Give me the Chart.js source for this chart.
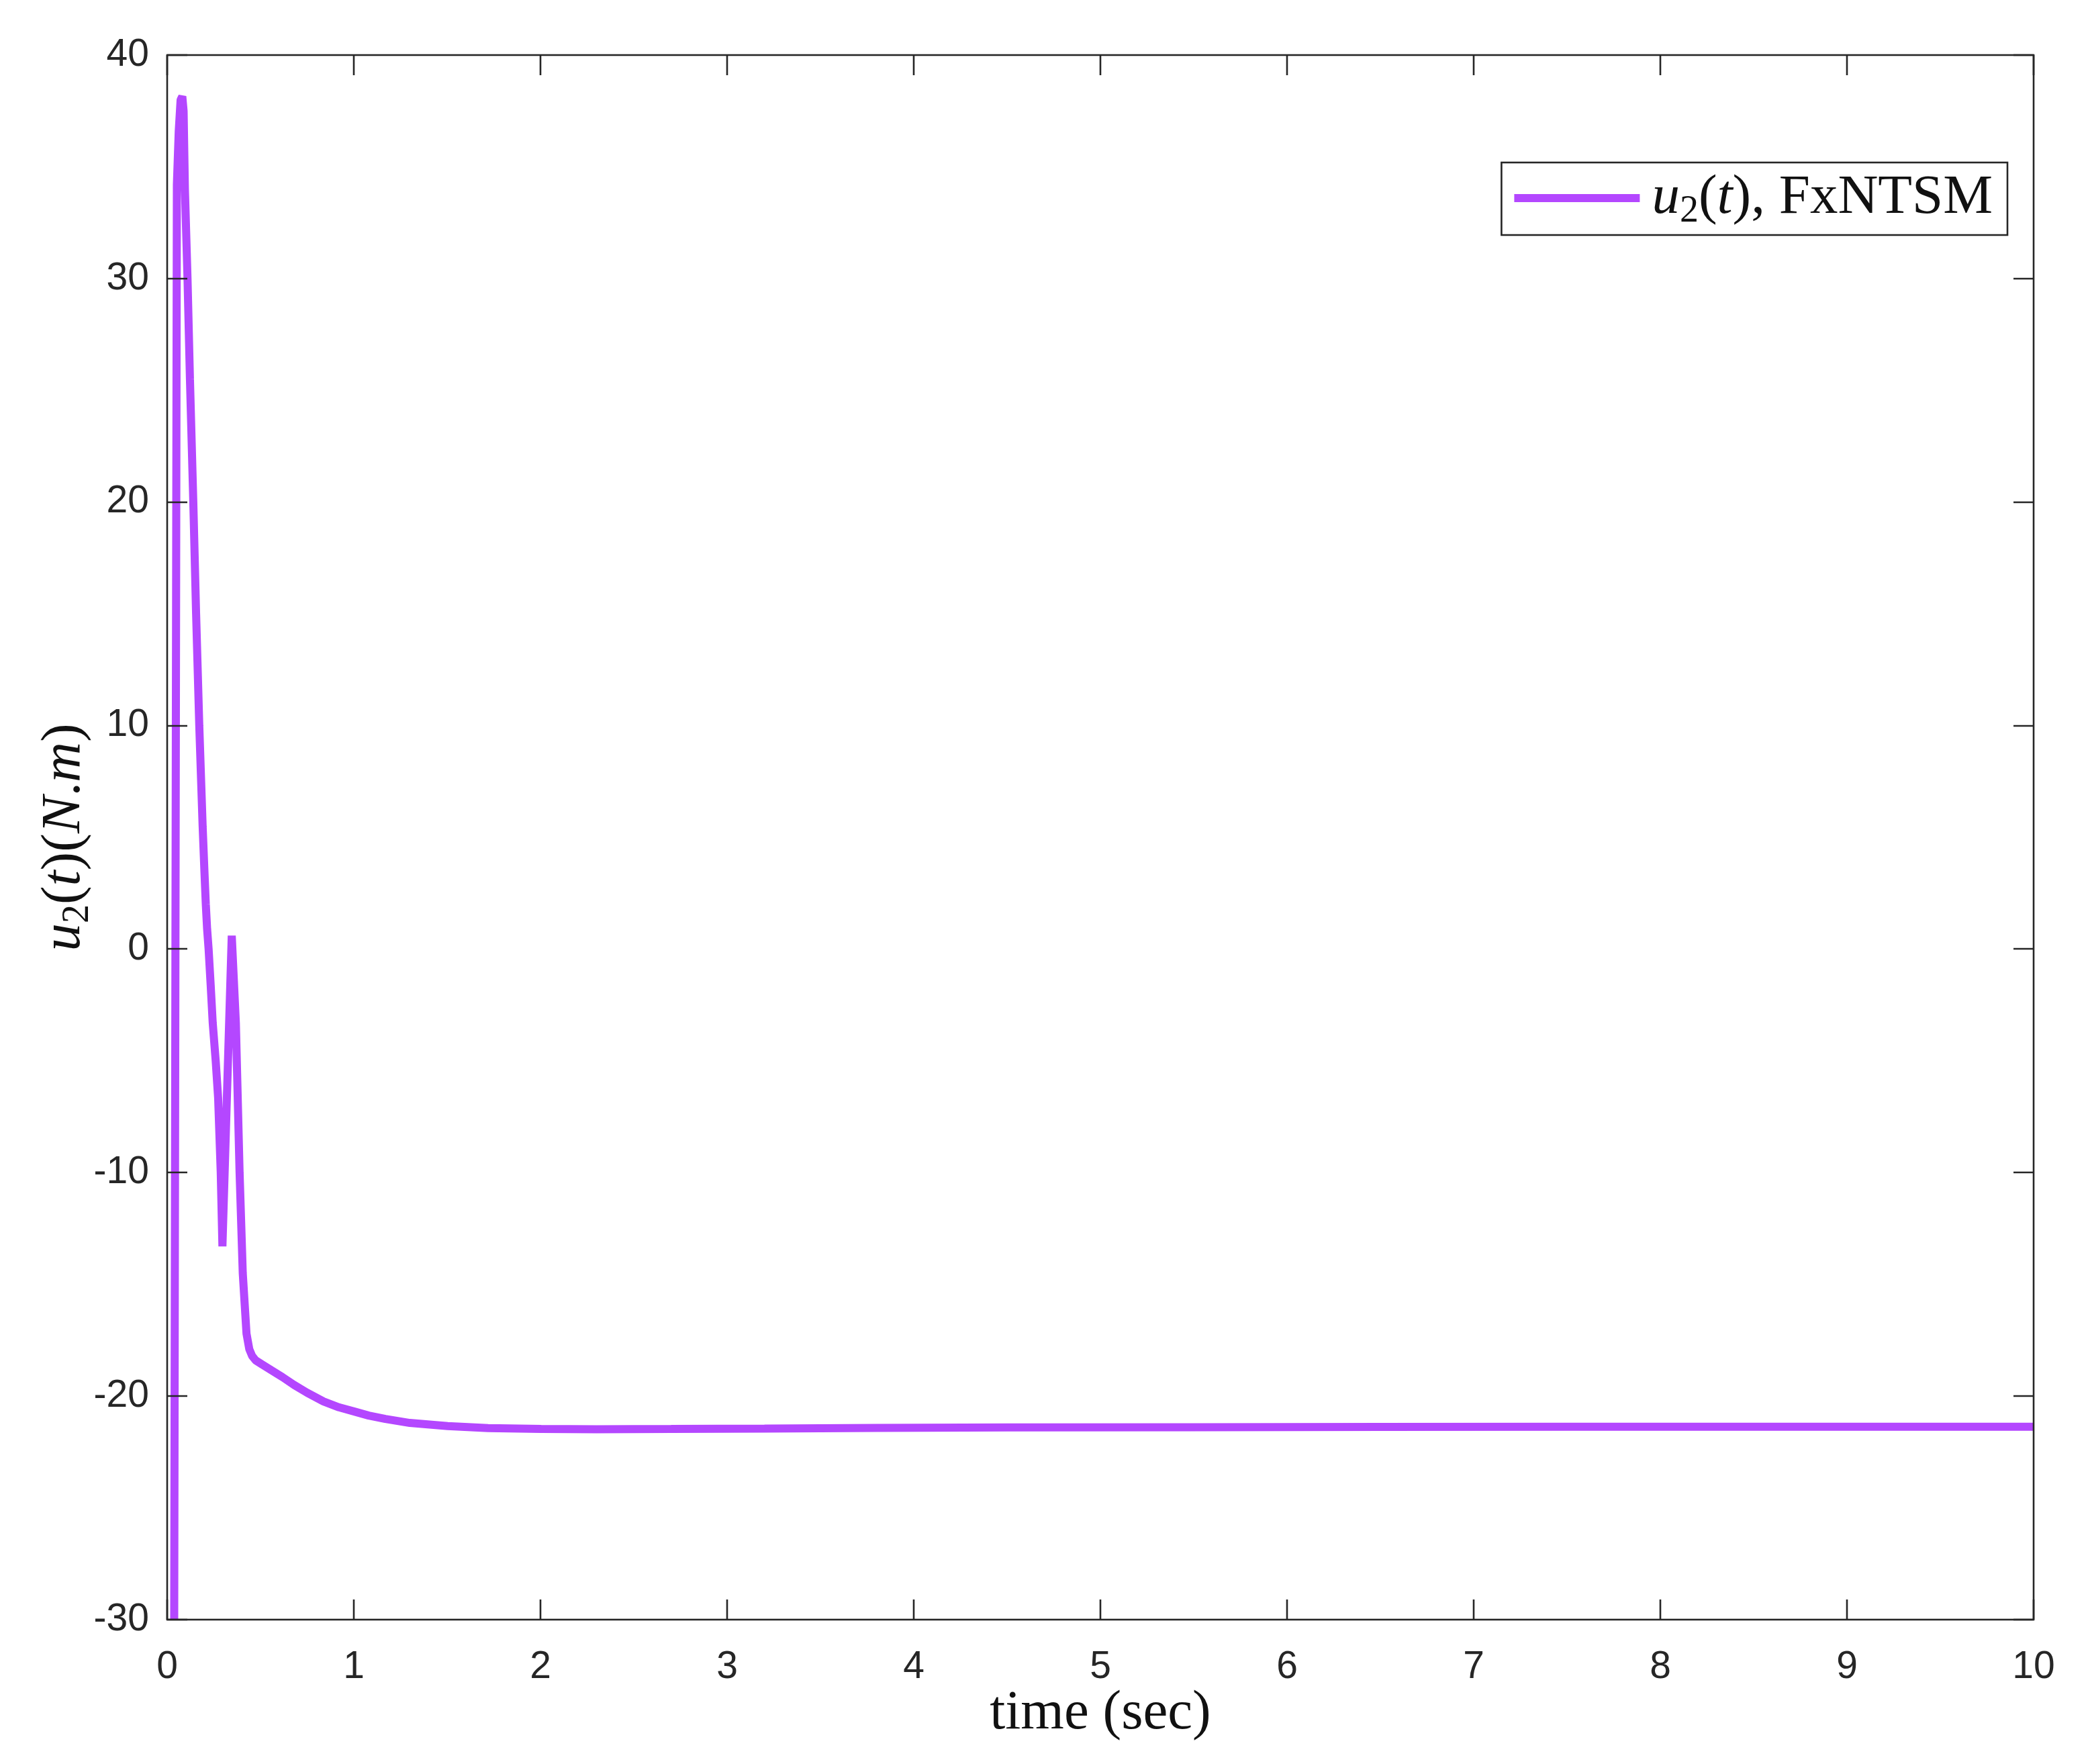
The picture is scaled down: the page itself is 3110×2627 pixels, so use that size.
<!DOCTYPE html>
<html lang="en">
<head>
    <meta charset="UTF-8">
    <title>u2(t) FxNTSM</title>
    <script src="https://cdn.jsdelivr.net/npm/chart.js"></script>
    <style>
        html, body { margin: 0; padding: 0; background: #fff; }
        #wrap { width: 3110px; height: 2627px; }
    </style>
</head>
<body>
<div id="wrap"><canvas id="torqueChart"></canvas></div>
<script>
    // time (sec) and control torque u2 (N.m)
    const timeS = [0, 0.037, 0.045, 0.052, 0.062, 0.072, 0.081, 0.088, 0.095, 0.109,
        0.122, 0.14, 0.155, 0.172, 0.19, 0.2, 0.207, 0.214, 0.222, 0.233,
        0.244, 0.26, 0.273, 0.287, 0.296, 0.346, 0.355, 0.368, 0.388, 0.405,
        0.425, 0.44, 0.455, 0.474, 0.508, 0.56, 0.618, 0.68, 0.75, 0.838,
        0.92, 1.003, 1.08, 1.169, 1.3, 1.503, 1.72, 2.004, 2.3, 2.7,
        3.2, 3.8, 4.5, 5.5, 6.5, 7.5, 8.5, 10];
    const u2Torque = [-150, -33, 3.4, 34.2, 36.6, 38.0, 38.15, 37.5, 34, 30,
        25.5, 20, 15, 10, 5.5, 3.4, 2.0, 0.9, 0, -1.6,
        -3.3, -5, -6.65, -10, -13.3, 0.6, -1.0, -3.3, -10, -14.5,
        -17.2, -17.9, -18.2, -18.4, -18.58, -18.85, -19.15, -19.5, -19.85, -20.24,
        -20.5, -20.69, -20.87, -21.02, -21.2, -21.34, -21.43, -21.47, -21.48, -21.47,
        -21.45, -21.42, -21.4, -21.39, -21.38, -21.37, -21.37, -21.37];
    const xTicks = [0, 1, 2, 3, 4, 5, 6, 7, 8, 9, 10];
    const yTicks = [-30, -20, -10, 0, 10, 20, 30, 40];
    const seriesLabel = 'u2(t), FxNTSM';

    const lineColor = '#b447ff';
    const axisColor = '#262626';
    const serif = "'Liberation Serif', 'Times New Roman', serif";
    const S = 83;
    const up = `${S}px ${serif}`;
    const it = `italic ${S}px ${serif}`;
    const sub = `${Math.round(S * 0.68)}px ${serif}`;

    // label pieces: [text, font, baseline shift]
    const xLabelParts = [['time (sec)', up, 0]];
    const yLabelParts = [['u', it, 0], ['2', sub, 13], ['(', up, 0], ['t', it, 0], [')(', up, 0],
        ['N', it, 0], ['.', up, 0], ['m', it, 0], [')', up, 0]];
    const legendParts = [['u', it, 0], ['2', sub, 13], ['(', up, 0], ['t', it, 0], ['), FxNTSM', up, 0]];

    function richWidth(ctx, parts) {
        let w = 0;
        parts.forEach(p => { ctx.font = p[1]; w += ctx.measureText(p[0]).width; });
        return w;
    }
    function drawRich(ctx, parts, x, y) {
        let cx = x;
        parts.forEach(p => {
            ctx.font = p[1];
            ctx.fillText(p[0], cx, y + p[2]);
            cx += ctx.measureText(p[0]).width;
        });
    }

    const matlabFrame = {
        id: 'matlabFrame',
        afterDatasetsDraw(chart) {
            const { ctx, chartArea: a, scales: { x, y } } = chart;
            ctx.save();
            ctx.strokeStyle = axisColor;
            ctx.lineWidth = 2.6;
            ctx.beginPath();
            x.ticks.forEach(t => {
                const px = Math.round(x.getPixelForValue(t.value));
                ctx.moveTo(px, a.bottom); ctx.lineTo(px, a.bottom - 30);
                ctx.moveTo(px, a.top); ctx.lineTo(px, a.top + 30);
            });
            y.ticks.forEach(t => {
                const py = Math.round(y.getPixelForValue(t.value));
                ctx.moveTo(a.left, py); ctx.lineTo(a.left + 30, py);
                ctx.moveTo(a.right, py); ctx.lineTo(a.right - 30, py);
            });
            ctx.stroke();
            ctx.strokeRect(a.left, a.top, a.right - a.left, a.bottom - a.top);

            ctx.fillStyle = '#111';
            ctx.textBaseline = 'alphabetic';
            ctx.textAlign = 'left';
            // x label
            const xw = richWidth(ctx, xLabelParts);
            drawRich(ctx, xLabelParts, (a.left + a.right) / 2 - xw / 2, a.bottom + 162);
            // y label
            const yw = richWidth(ctx, yLabelParts);
            ctx.save();
            ctx.translate(118, (a.top + a.bottom) / 2);
            ctx.rotate(-Math.PI / 2);
            drawRich(ctx, yLabelParts, -yw / 2, 0);
            ctx.restore();

            // legend box
            const tw = richWidth(ctx, legendParts);
            const bw = 19 + 187 + 18 + tw + 22;
            const bx = a.right - 39 - bw, by = a.top + 160, bh = 108;
            ctx.fillStyle = '#fff';
            ctx.fillRect(bx, by, bw, bh);
            ctx.lineWidth = 2.6;
            ctx.strokeRect(bx, by, bw, bh);
            ctx.strokeStyle = chart.data.datasets[0].borderColor;
            ctx.lineWidth = 12;
            ctx.beginPath();
            ctx.moveTo(bx + 19, by + 53);
            ctx.lineTo(bx + 19 + 187, by + 53);
            ctx.stroke();
            ctx.fillStyle = '#111';
            drawRich(ctx, legendParts, bx + 19 + 187 + 18, by + 75);
            ctx.restore();
        }
    };

    const tickFont = { family: "'Liberation Sans', Arial, sans-serif", size: 57 };

    new Chart(document.getElementById('torqueChart'), {
        type: 'line',
        data: {
            datasets: [{
                label: seriesLabel,
                data: timeS.map((t, i) => ({ x: t, y: u2Torque[i] })),
                borderColor: lineColor,
                borderWidth: 12,
                borderJoinStyle: 'bevel',
                pointRadius: 0,
                tension: 0,
                clip: 0
            }]
        },
        options: {
            responsive: true,
            maintainAspectRatio: false,
            animation: false,
            devicePixelRatio: 1,
            layout: { padding: { top: 82, right: 81, left: 0, bottom: 0 } },
            plugins: { legend: { display: false }, tooltip: { enabled: false } },
            scales: {
                x: {
                    type: 'linear',
                    min: 0,
                    max: 10,
                    grid: { display: false },
                    border: { display: false },
                    afterBuildTicks: s => { s.ticks = xTicks.map(v => ({ value: v })); },
                    afterFit: s => { s.height = 215; },
                    ticks: { font: tickFont, color: axisColor, padding: 29, maxRotation: 0,
                        callback: v => String(v) }
                },
                y: {
                    min: -30,
                    max: 40,
                    grid: { display: false },
                    border: { display: false },
                    afterBuildTicks: s => { s.ticks = yTicks.map(v => ({ value: v })); },
                    afterFit: s => { s.width = 249; },
                    ticks: { font: tickFont, color: axisColor, padding: 19,
                        callback: v => String(v) }
                }
            }
        },
        plugins: [matlabFrame]
    });
</script>
</body>
</html>
